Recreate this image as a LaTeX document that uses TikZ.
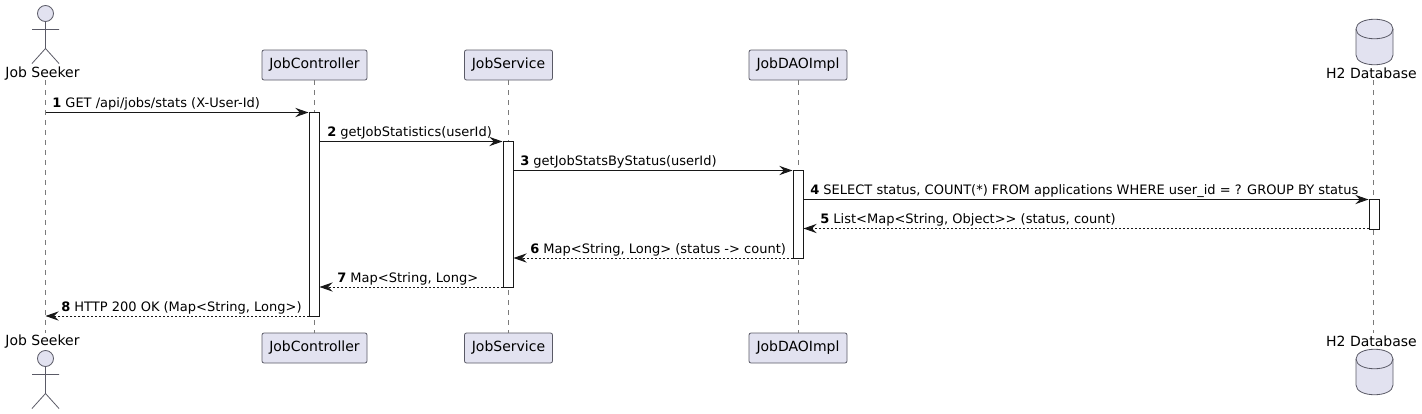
\documentclass[tikz,border=0pt]{standalone}
\usepackage{fontspec}
\setmainfont{DejaVu Sans}
\usetikzlibrary{arrows.meta, positioning}

\definecolor{partfill}{HTML}{E2E2F0}
\definecolor{partline}{HTML}{5A5A66}
\definecolor{lifeline}{HTML}{7A7A7A}
\definecolor{msgline}{HTML}{181818}

\tikzset{
	part/.style={draw=partline, fill=partfill, rounded corners=1.5pt, line width=.6pt, minimum width=#1*.75pt, minimum height=22.5pt, inner sep=0pt, font=\fontsize{10.5}{12}\selectfont},
	partlabel/.style={inner sep=0pt, font=\fontsize{10.5}{12}\selectfont},
	life/.style={draw=lifeline, line width=.55pt, dash pattern=on 3.75pt off 3.75pt},
	act/.style={draw=msgline, fill=white, line width=.75pt, minimum width=7.5pt, minimum height=#1*.75pt, inner sep=0pt, anchor=north},
	msg/.style={draw=msgline, line width=.75pt, -{Stealth[length=10pt, width=7pt, inset=3.5pt]}},
	reply/.style={msg, dash pattern=on 1.5pt off 1.5pt},
	lbl/.style={anchor=base west, inner sep=0pt, text=black, font=\fontsize{9.75}{12}\selectfont},
	figure/.style={draw=partline, line width=.6pt},
	drum/.style={draw=partline, fill=partfill, line width=.6pt}
}

\newcommand{\jobactor}[2]{%
	\draw[figure, fill=partfill] (#1,#2) circle (8);
	\draw[figure] (#1,#2+8) -- (#1,#2+35) (#1-13.5,#2+16) -- (#1+13.5,#2+16)
		(#1-13.5,#2+50) -- (#1,#2+35) -- (#1+13.5,#2+50);
}
\newcommand{\jobdrum}[2]{%
	\draw[drum] (#1-18.5,#2+10) .. controls (#1-18.5,#2-3) and (#1+18.5,#2-3) .. (#1+18.5,#2+10)
		-- (#1+18.5,#2+36) .. controls (#1+18.5,#2+49) and (#1-18.5,#2+49) .. (#1-18.5,#2+36) -- cycle;
	\draw[drum, fill=none] (#1-18.5,#2+10) .. controls (#1-18.5,#2+23) and (#1+18.5,#2+23) .. (#1+18.5,#2+10);
}

\begin{document}
\begin{tikzpicture}[x=.75pt, y=-.75pt]
	\useasboundingbox (0,0) rectangle (1422,414);

	% Heads
	\node[partlabel] (Seeker) at (42.5,73.5) {Job Seeker};
	\node[part=105] (Ctl) at (314.5,65) {JobController};
	\node[part=88] (Svc) at (508.5,65) {JobService};
	\node[part=98] (Dao) at (798,65) {JobDAOImpl};
	\node[partlabel] (Db) at (1371.5,73.5) {H2 Database};

	% Feet
	\node[partlabel] (SeekerB) at (42.5,342) {Job Seeker};
	\node[part=105] (CtlB) at (314.5,348) {JobController};
	\node[part=88] (SvcB) at (508.5,348) {JobService};
	\node[part=98] (DaoB) at (798,348) {JobDAOImpl};
	\node[partlabel] (DbB) at (1371.5,341.5) {H2 Database};

	\jobactor{45.5}{13.5}
	\jobactor{45.5}{358.5}
	\jobdrum{1374.5}{19}
	\jobdrum{1374.5}{349}

	% Lifelines
	\coordinate (SeekerT) at (45.5,80);
	\coordinate (SeekerE) at (45.5,333);
	\coordinate (DbT) at (1373.5,80);
	\coordinate (DbE) at (1373.5,333);
	\draw[life] (SeekerT) -- (SeekerE);
	\draw[life] (Ctl) -- (CtlB);
	\draw[life] (Svc) -- (SvcB);
	\draw[life] (Dao) -- (DaoB);
	\draw[life] (DbT) -- (DbE);

	% Activations
	\node[act=204] (ActCtl) at (314,112) {};
	\node[act=146] (ActSvc) at (508,141) {};
	\node[act=88] (ActDao) at (798,170) {};
	\node[act=30] (ActDb) at (1374,199) {};

	% Rows
	\coordinate (R1) at (0,112.5);
	\coordinate (R2) at (0,141.5);
	\coordinate (R3) at (0,170.5);
	\coordinate (R4) at (0,199.5);
	\coordinate (R5) at (0,228.5);
	\coordinate (R6) at (0,258);
	\coordinate (R7) at (0,287);
	\coordinate (R8) at (0,316);

	% Calls
	\path
	(SeekerT |- R1) edge[msg] (ActCtl.west |- R1)
	(ActCtl.east |- R2) edge[msg] (ActSvc.west |- R2)
	(ActSvc.east |- R3) edge[msg] (ActDao.west |- R3)
	(ActDao.east |- R4) edge[msg] (ActDb.west |- R4)
	;
	% Returns
	\path
	(ActDb.west |- R5) edge[reply] (ActDao.east |- R5)
	(ActDao.west |- R6) edge[reply] (ActSvc.east |- R6)
	(ActSvc.west |- R7) edge[reply] (ActCtl.east |- R7)
	(ActCtl.west |- R8) edge[reply] (SeekerT |- R8)
	;

	% Labels
	\node[lbl] (L1) at (52,107.5) {\textbf{1} GET /api/jobs/stats (X-User-Id)};
	\node[lbl] (L2) at (327,136.5) {\textbf{2} getJobStatistics(userId)};
	\node[lbl] (L3) at (520,165.5) {\textbf{3} getJobStatsByStatus(userId)};
	\node[lbl] (L4) at (810,194.5) {\textbf{4} SELECT status, COUNT(*) FROM applications WHERE user\_id = ? GROUP BY status};
	\node[lbl] (L5) at (820,223.5) {\textbf{5} List<Map<String, Object>{}> (status, count)};
	\node[lbl] (L6) at (530,253.5) {\textbf{6} Map<String, Long> (status -> count)};
	\node[lbl] (L7) at (337,282.5) {\textbf{7} Map<String, Long>};
	\node[lbl] (L8) at (61,311.5) {\textbf{8} HTTP 200 OK (Map<String, Long>)};
\end{tikzpicture}
\end{document}
